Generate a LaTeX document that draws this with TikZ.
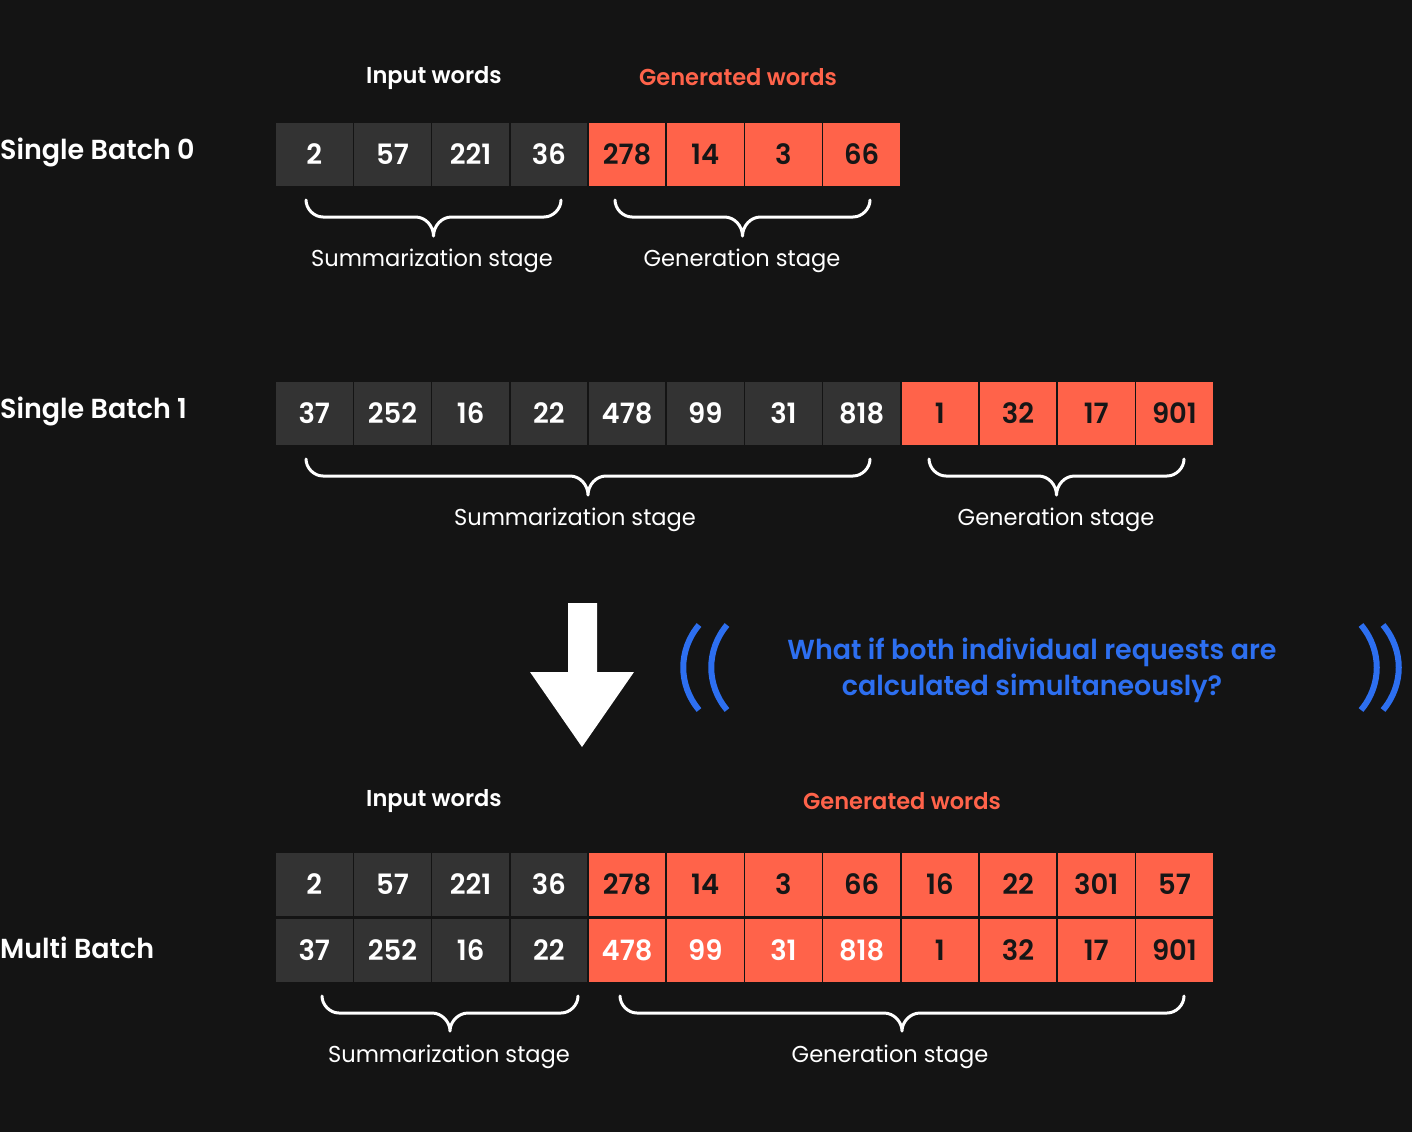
\documentclass[tikz,border=0pt]{standalone}
\usepackage{fontspec}
\setmainfont{Poppins}[FakeStretch=0.98, BoldFont={Poppins SemiBold}, BoldFeatures={FakeStretch=0.98}]
\usetikzlibrary{calc}
\definecolor{bg}{HTML}{141414}
\definecolor{cellgray}{HTML}{333333}
\definecolor{tomato}{HTML}{FF634A}
\definecolor{qblue}{HTML}{2D6FF0}
\definecolor{darktxt}{HTML}{161616}
\tikzset{
  cell/.style={minimum width=76.5pt, minimum height=63pt, inner sep=0pt, outer sep=0pt, font=\fontsize{28}{30}\selectfont\bfseries},
  incell/.style={cell, fill=cellgray, text=white},
  gencell/.style={cell, fill=tomato, text=darktxt},
  genw/.style={cell, fill=tomato, text=white},
  rowlabel/.style={anchor=west, inner sep=0pt, text=white, font=\fontsize{27.5}{30}\selectfont\bfseries},
  head/.style={inner sep=0pt, font=\fontsize{23}{26}\selectfont\bfseries},
  stage/.style={inner sep=0pt, text=white, font=\fontsize{23}{26}\selectfont},
  bracestyle/.style={draw=white, line width=3pt, line cap=round, line join=round},
  question/.style={inner sep=0pt, text=qblue, align=center, font=\fontsize{27.5}{36}\selectfont\bfseries},
  paren/.style={draw=qblue, line width=6pt}
}
% brace: #1 left x, #2 right x, #3 tip y, #4 center x, #5 line y, #6 point y
\newcommand{\mybrace}[6]{%
  \draw[bracestyle] (#1,#3) .. controls (#1,{#3+9}) and ({#1+8},#5) .. ({#1+17},#5)
     -- ({#4-18},#5) .. controls ({#4-8},#5) and (#4,{#5+9}) .. (#4,#6)
     .. controls (#4,{#5+9}) and ({#4+8},#5) .. ({#4+18},#5)
     -- ({#2-17},#5) .. controls ({#2-8},#5) and (#2,{#3+9}) .. (#2,#3);}
\begin{document}
\begin{tikzpicture}[x=1pt,y=-1pt]
\fill[bg] (0,0) rectangle (1412,1132);
\useasboundingbox (0,0) rectangle (1412,1132);

% ---------- Single Batch 0 ----------
\node[rowlabel] (lab0) at (0,152) {Single Batch 0};
\node[head, text=white] (in0) at (434,78) {Input words};
\node[head, text=tomato] (gen0) at (738,77) {Generated words};
\foreach \v [count=\i from 0] in {2,57,221,36}
  \node[incell] (a\i) at ({276+38.25+\i*78.2},154.5) {\v};
\foreach \v [count=\i from 4] in {278,14,3,66}
  \node[gencell] (a\i) at ({276+38.25+\i*78.2},154.5) {\v};
\mybrace{306}{561}{200}{433.5}{217}{236}
\mybrace{615}{870}{200}{742.5}{217}{236}
\node[stage] (s0) at (432,261) {Summarization stage};
\node[stage] (g0) at (742,261) {Generation stage};

% ---------- Single Batch 1 ----------
\node[rowlabel] (lab1) at (0,411) {Single Batch 1};
\foreach \v [count=\i from 0] in {37,252,16,22,478,99,31,818}
  \node[incell] (b\i) at ({276+38.25+\i*78.2},413.5) {\v};
\foreach \v [count=\i from 8] in {1,32,17,901}
  \node[gencell] (b\i) at ({276+38.25+\i*78.2},413.5) {\v};
\mybrace{306}{870}{459}{588}{476}{495}
\mybrace{929}{1184}{459}{1056.5}{476}{495}
\node[stage] (s1) at (575,520) {Summarization stage};
\node[stage] (g1) at (1056,520) {Generation stage};

% ---------- Arrow and question ----------
\fill[white] (568,603) -- (597,603) -- (597,672) -- (634,672) -- (582,747) -- (530,672) -- (568,672) -- cycle;
\node[question] (q) at (1032,670) {What if both individual requests are\\calculated simultaneously?};
\draw[paren] (699,625) .. controls (678,650) and (678,685) .. (699,710);
\draw[paren] (727,625) .. controls (706,650) and (706,685) .. (727,710);
\draw[paren] (1361,625) .. controls (1382,650) and (1382,685) .. (1361,710);
\draw[paren] (1383,625) .. controls (1404,650) and (1404,685) .. (1383,710);

% ---------- Multi Batch ----------
\node[rowlabel] (lab2) at (0,948) {Multi Batch};
\node[head, text=white] (in2) at (434,801) {Input words};
\node[head, text=tomato] (gen2) at (902,801) {Generated words};
\foreach \v [count=\i from 0] in {2,57,221,36}
  \node[incell] (m\i) at ({276+38.25+\i*78.2},884.5) {\v};
\foreach \v [count=\i from 4] in {278,14,3,66,16,22,301,57}
  \node[gencell] (m\i) at ({276+38.25+\i*78.2},884.5) {\v};
\foreach \v [count=\i from 0] in {37,252,16,22}
  \node[incell] (n\i) at ({276+38.25+\i*78.2},950) {\v};
\foreach \v [count=\i from 4] in {478,99,31,818}
  \node[genw] (n\i) at ({276+38.25+\i*78.2},950) {\v};
\foreach \v [count=\i from 8] in {1,32,17,901}
  \node[gencell] (n\i) at ({276+38.25+\i*78.2},950) {\v};
\mybrace{322}{578}{996}{450}{1013}{1031}
\mybrace{620}{1184}{996}{902}{1013}{1031}
\node[stage] (s2) at (449,1057) {Summarization stage};
\node[stage] (g2) at (890,1057) {Generation stage};
\end{tikzpicture}
\end{document}
